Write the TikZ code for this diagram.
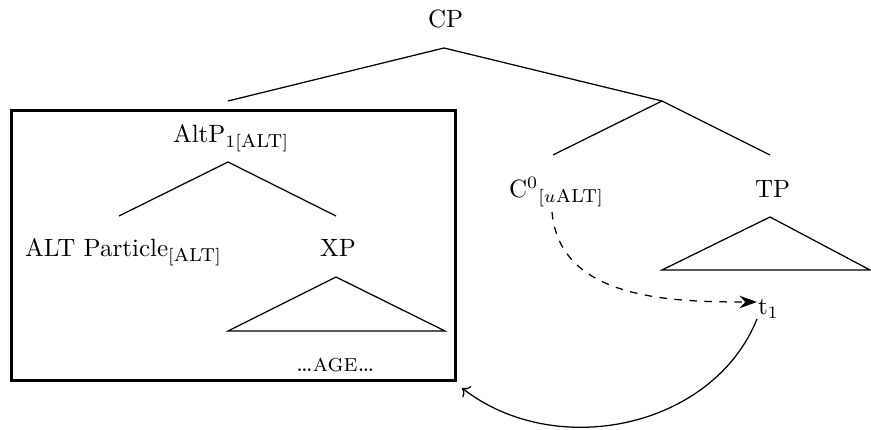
\documentclass[tikz,border=0pt]{standalone}
\usetikzlibrary{arrows.meta}
\begin{document}
\begin{tikzpicture}[x=0.4pt,y=-0.4pt,inner sep=0pt,outer sep=0pt,line width=0.5pt,
lbl/.style={anchor=base west,inner sep=0pt},
altbox/.style={draw,line width=1.2pt}]
\useasboundingbox (0,0) rectangle (871,430);

% labels
\draw (428,28) node[lbl] (cp) {CP};
\draw (173,143) node[lbl] (altp) {AltP$_{1[\textsc{alt}]}$};
\draw (25,257) node[lbl] (part) {ALT Particle$_{[\textsc{alt}]}$};
\draw (320,257) node[lbl] (xp) {XP};
\draw (296,372) node[lbl] (age) {\dots\textsc{age}\dots};
\draw (509,198) node[lbl] (c0) {C$^0{}_{[u\textsc{alt}]}$};
\draw (755,198) node[lbl] (tp) {TP};
\draw (758,315) node[lbl] (t1) {t$_1$};

% branch points
\coordinate (cpTop) at (444,48);
\coordinate (altUp) at (228,101);
\coordinate (cbar) at (662,101);
\coordinate (cLeft) at (553,155);
\coordinate (cRight) at (770,155);
\coordinate (altTop) at (228,162);
\coordinate (partUp) at (119,216);
\coordinate (xpUp) at (336,216);

\draw (altUp) -- (cpTop) -- (cbar);
\draw (cLeft) -- (cbar) -- (cRight);
\draw (partUp) -- (altTop) -- (xpUp);

% triangles
\draw (336,277) -- (228,331) -- (445,331) -- cycle;
\draw (770,217) -- (662,270) -- (870,270) -- cycle;

% box round AltP
\draw[altbox] (11,111) rectangle (455,381);

% movement
\coordinate (c0foot) at (552,212);
\coordinate (t1in) at (757,302);
\coordinate (t1foot) at (757,319);
\coordinate (boxcorner) at (462,388);
\draw[dashed,-{Stealth[length=7pt,width=5pt]}] (c0foot) to[out=-85,in=180] (t1in);
\draw[->] (t1foot) to[out=-112,in=-38] (boxcorner);

\end{tikzpicture}
\end{document}
